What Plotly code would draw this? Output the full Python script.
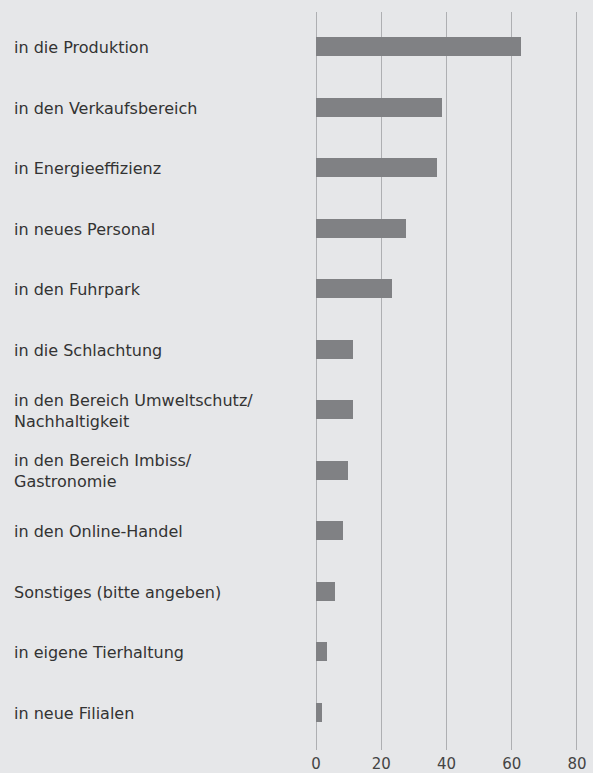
import plotly.graph_objects as go

categories = [
    "in die Produktion",
    "in den Verkaufsbereich",
    "in Energieeffizienz",
    "in neues Personal",
    "in den Fuhrpark",
    "in die Schlachtung",
    "in den Bereich Umweltschutz/<br>Nachhaltigkeit",
    "in den Bereich Imbiss/<br>Gastronomie",
    "in den Online-Handel",
    "Sonstiges (bitte angeben)",
    "in eigene Tierhaltung",
    "in neue Filialen",
]
values = [62.8, 38.6, 37.0, 27.5, 23.2, 11.3, 11.3, 9.7, 8.2, 5.7, 3.3, 1.7]
tick_vals = [0, 20, 40, 60, 80]
tick_text = ["0", "20", "40", "60", "80"]

BG = "#e6e7e9"
BAR = "#808184"
GRID = "#aeafb2"
TEXT = "#333333"
FONT = "DejaVu Sans"

W, H = 593, 773
ML, MR, MT, MB = 316, 3, 12, 23
plot_w = W - ML - MR

fig = go.Figure(
    go.Bar(
        x=values,
        y=list(range(len(categories))),
        orientation="h",
        marker=dict(color=BAR, line=dict(width=0)),
        width=0.314,
        hoverinfo="x",
    )
)

for i, c in enumerate(categories):
    fig.add_annotation(
        x=(12 - ML) / plot_w,
        xref="paper",
        y=i,
        yref="y",
        yshift=-1,
        text=c,
        showarrow=False,
        xanchor="left",
        yanchor="middle",
        align="left",
        font=dict(family=FONT, size=16, color=TEXT),
    )

fig.update_layout(
    width=W,
    height=H,
    paper_bgcolor=BG,
    plot_bgcolor=BG,
    margin=dict(l=ML, r=MR, t=MT, b=MB, pad=0, autoexpand=False),
    showlegend=False,
    bargap=0,
    xaxis=dict(
        range=[0, 84],
        tickvals=tick_vals,
        ticktext=tick_text,
        showgrid=True,
        gridcolor=GRID,
        gridwidth=1.4,
        zeroline=True,
        zerolinecolor=GRID,
        zerolinewidth=1.4,
        showline=False,
        ticks="",
        automargin=False,
        ticklabelstandoff=3,
        tickfont=dict(family=FONT, size=15, color="#444444"),
        fixedrange=True,
    ),
    yaxis=dict(
        range=[11.62, -0.57],
        showticklabels=False,
        showgrid=False,
        zeroline=False,
        showline=False,
        ticks="",
        automargin=False,
        fixedrange=True,
    ),
)

fig.write_html(
    "out.html",
    config={"displayModeBar": False},
    post_script="document.body.style.margin='0';document.body.style.background='" + BG + "';",
)
